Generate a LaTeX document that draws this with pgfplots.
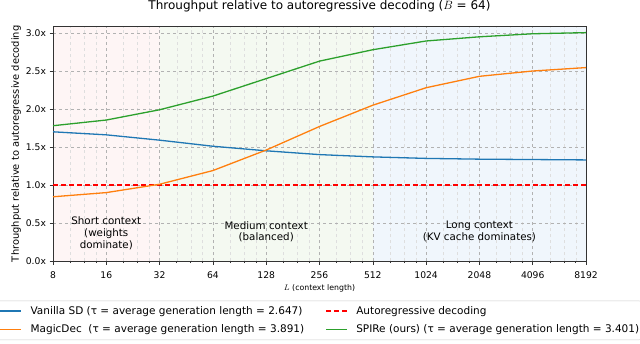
\documentclass[border=0pt]{standalone}
\usepackage{pgfplots}
\pgfplotsset{compat=1.18}
\usepackage{fontspec}
\setmainfont{DejaVu Sans}
\usetikzlibrary{calc}
\definecolor{c1}{HTML}{1F77B4}
\definecolor{c2}{HTML}{FF7F0E}
\definecolor{c3}{HTML}{2CA02C}
\definecolor{rpink}{RGB}{254,245,245}
\definecolor{rgreen}{RGB}{244,249,241}
\definecolor{rblue}{RGB}{240,246,252}
\definecolor{gridc}{RGB}{178,178,178}
\definecolor{mgridc}{RGB}{222,222,222}
\begin{document}
\begin{tikzpicture}
\begin{axis}[
  set layers,
  scale only axis,
  width=533pt, height=234.3pt,
  xmode=log,
  xmin=8, xmax=8192, ymin=0, ymax=3.083,
  xtick={8,16,32,64,128,256,512,1024,2048,4096,8192},
  xticklabels={8,16,32,64,128,256,512,1024,2048,4096,8192},
  minor xtick={10,12,14,20,24,28,40,48,56,80,96,112,160,192,224,320,384,448,640,768,896,1280,1536,1792,2560,3072,3584,5120,6144,7168},
  ytick={0,0.5,1,1.5,2,2.5,3},
  yticklabels={0.0x,0.5x,1.0x,1.5x,2.0x,2.5x,3.0x},
  tick align=outside, xtick pos=bottom, ytick pos=left,
  major tick length=3.5pt, minor tick length=2pt,
  tick style={black!80, line width=0.6pt},
  axis line style={black!80, line width=0.7pt},
  ticklabel style={font=\fontsize{9.2}{11}\selectfont},
  xticklabel style={yshift=-3.5pt},
  grid=both,
  major grid style={gridc, dashed, line width=0.5pt},
  minor grid style={mgridc, dashed, line width=0.4pt},
  title={Throughput relative to autoregressive decoding ($B$ = 64)},
  title style={at={(axis description cs:0.5,1.046)}, anchor=base, font=\fontsize{12}{14}\selectfont},
  xlabel={$L$ (context length)},
  xlabel style={at={(axis description cs:0.5,-0.126)}, anchor=base, font=\fontsize{7.8}{9}\selectfont},
  ylabel={Throughput relative to autoregressive decoding},
  ylabel style={at={(axis description cs:-0.0638,0.5)}, anchor=base, font=\fontsize{9.9}{11}\selectfont},
  legend columns=2,
  legend cell align=left,
  legend image code/.code={\draw[#1] (0pt,0pt) -- (21pt,0pt);},
  legend style={at={(axis description cs:0.5,-0.1694)}, anchor=north,
    draw=black!20, rounded corners=2pt, fill=white,
    font=\fontsize{10.5}{12}\selectfont,
    inner xsep=2pt, inner ysep=3.5pt, row sep=5pt,
    nodes={inner xsep=0pt, inner ysep=2pt},
    /tikz/every odd column/.append style={column sep=8.5pt},
    /tikz/every even column/.append style={column sep=21pt}},
]
\addplot[draw=none, fill=rpink, on layer=axis background, forget plot] coordinates {(8,0) (8,3.083) (32,3.083) (32,0)} -- cycle;
\addplot[draw=none, fill=rgreen, on layer=axis background, forget plot] coordinates {(32,0) (32,3.083) (512,3.083) (512,0)} -- cycle;
\addplot[draw=none, fill=rblue, on layer=axis background, forget plot] coordinates {(512,0) (512,3.083) (8192,3.083) (8192,0)} -- cycle;

\addplot[c1, line width=1.3pt] coordinates {(8,1.70)(16,1.66)(32,1.59)(64,1.51)(128,1.45)(256,1.40)(512,1.37)(1024,1.35)(2048,1.34)(4096,1.335)(8192,1.33)};
\addlegendentry{Vanilla SD (τ = average generation length = 2.647)}
\addplot[red, line width=1.6pt, dash pattern=on 5pt off 3pt] coordinates {(8,1) (8192,1)};
\addlegendentry{Autoregressive decoding}
\addplot[c2, line width=1.3pt] coordinates {(8,0.845)(16,0.90)(32,1.01)(64,1.19)(128,1.46)(256,1.77)(512,2.05)(1024,2.28)(2048,2.43)(4096,2.50)(8192,2.545)};
\addlegendentry{MagicDec\ \ (τ = average generation length = 3.891)}
\addplot[c3, line width=1.3pt] coordinates {(8,1.78)(16,1.855)(32,1.99)(64,2.17)(128,2.40)(256,2.63)(512,2.78)(1024,2.895)(2048,2.95)(4096,2.99)(8192,3.005)};
\addlegendentry{SPIRe (ours) (τ = average generation length = 3.401)}

\node[align=center, font=\fontsize{10.3}{11.7}\selectfont] at (axis cs:16,0.363) {Short context\\(weights\\dominate)};
\node[align=center, font=\fontsize{10.3}{11.7}\selectfont] at (axis cs:128,0.385) {Medium context\\(balanced)};
\node[align=center, font=\fontsize{10.3}{11.7}\selectfont] at (axis cs:2048,0.385) {Long context\\(KV cache dominates)};

\coordinate (sw) at (rel axis cs:0,0);
\coordinate (ne) at (rel axis cs:1,1);
\end{axis}
\pgfresetboundingbox
\path[use as bounding box] ($(sw)+(-53pt,-82pt)$) rectangle ($(ne)+(54pt,26.7pt)$);
\end{tikzpicture}
\end{document}
